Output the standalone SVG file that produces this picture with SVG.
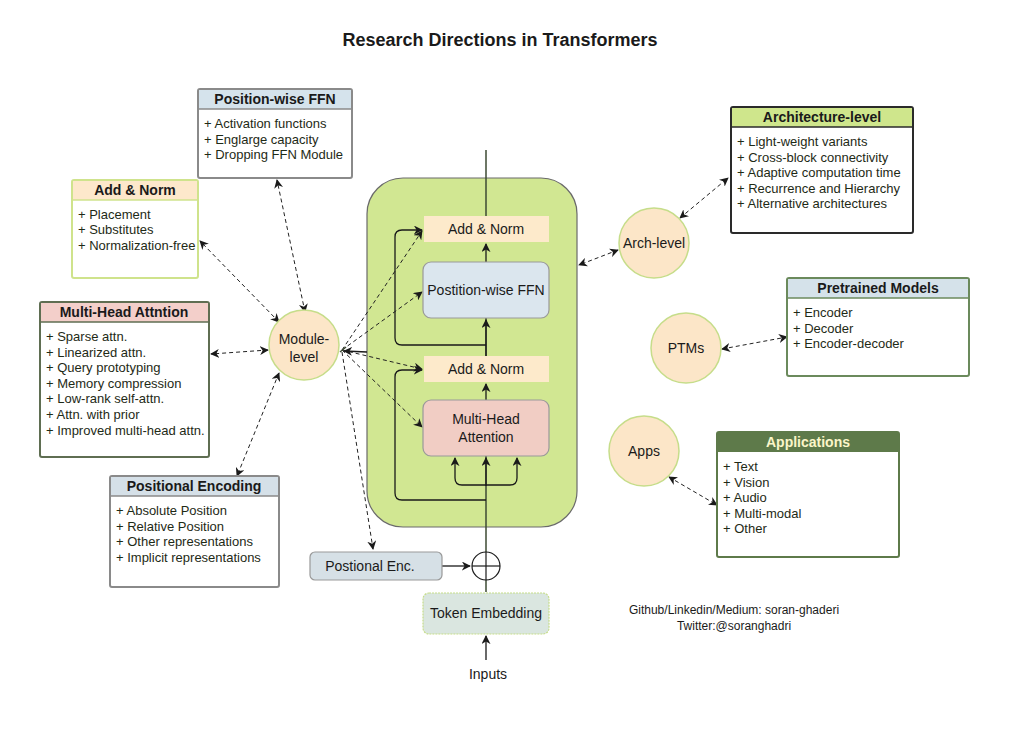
<svg xmlns="http://www.w3.org/2000/svg" width="1011" height="731" viewBox="0 0 1011 731">
<defs>
<marker id="ah" viewBox="0 0 10 10" refX="9" refY="5" markerWidth="9" markerHeight="9" markerUnits="userSpaceOnUse" orient="auto-start-reverse"><path d="M0,0 L10,5 L0,10 L3,5 z" fill="#1a1a1a"/></marker>
</defs>
<style>
text{font-family:"Liberation Sans",Arial,sans-serif;}
.t{font-size:18px;font-weight:bold;fill:#1a1a1a;}
.hd{font-size:14px;font-weight:bold;fill:#1a1a1a;text-anchor:middle;}
.it{font-size:13px;fill:#1e2a16;}
.lb{font-size:14px;fill:#1a1a1a;text-anchor:middle;}
.cr{font-size:12px;fill:#1a1a1a;text-anchor:middle;}
.circ{fill:#fce6c8;stroke:#c6dd8a;stroke-width:1.5;}
.dash{fill:none;stroke:#222;stroke-width:1;stroke-dasharray:4,3;marker-start:url(#ah);marker-end:url(#ah);}
.dash1{fill:none;stroke:#222;stroke-width:1;stroke-dasharray:4,3;marker-end:url(#ah);}
.sol{fill:none;stroke:#3d4a33;stroke-width:1.5;}
.arr{fill:none;stroke:#1a1a1a;stroke-width:1.3;marker-end:url(#ah);}
.box{fill:#fff;stroke-width:2;}
</style>
<rect width="1011" height="731" fill="#fff"/>
<text class="t" x="500" y="46" text-anchor="middle">Research Directions in Transformers</text>

<g id="transformer-block">
<rect x="367" y="178" width="210" height="349" rx="36" fill="#d1e792" stroke="#6a6a6a" stroke-width="1.2"/>
</g>

<g id="connectors">
<line x1="486" y1="150" x2="486" y2="216" class="sol"/>
<line x1="486" y1="592" x2="486" y2="456" class="sol"/>
<line x1="486" y1="356" x2="486" y2="318" class="sol"/>
<path d="M486,400 L486,384" class="arr"/>
<path d="M486,356 L486,320" class="arr"/>
<path d="M486,262 L486,244" class="arr"/>
<path d="M486,486 L486,458" class="arr"/>
<path d="M486,485 L462,485 Q455,485 455,478 L455,458" class="arr"/>
<path d="M486,485 L510,485 Q517,485 517,478 L517,458" class="arr"/>
<path d="M486,500 L402,500 Q395,500 395,493 L395,377 Q395,370 402,370 L422,370" class="arr"/>
<path d="M486,345 L402,345 Q395,345 395,338 L395,237 Q395,230 402,230 L422,230" class="arr"/>
<path d="M442,566 L470,566" class="arr"/>
<path d="M486,660 L486,636" class="arr"/>
<path d="M367,352 L344,351" class="arr"/>
<path d="M342,350 L422,231" class="dash1"/>
<path d="M342,350 L422,292" class="dash1"/>
<path d="M342,350 L422,369" class="dash1"/>
<path d="M342,350 L422,427" class="dash1"/>
<path d="M342,352 L373,549" class="dash1"/>
<path d="M340,352 L346,347" class="sol" stroke="#111" stroke-width="4"/>
<path d="M305,312 L277,180" class="dash"/>
<path d="M279,322 L200,241" class="dash"/>
<path d="M268,350 L211,354" class="dash"/>
<path d="M279,373 L237,476" class="dash"/>
<path d="M618,250 L579,265" class="dash"/>
<path d="M680,218 L728,178" class="dash"/>
<path d="M722,349 L787,337" class="dash"/>
<path d="M669,477 L717,505" class="dash"/>
</g>

<g id="add-norm-top">
<rect x="424" y="216" width="125" height="26" fill="#fdeacb"/>
<text class="lb" x="486" y="234">Add &amp; Norm</text>
</g>
<g id="ffn">
<rect x="423" y="262" width="126" height="56" rx="8" fill="#dbe6ee" stroke="#999" stroke-width="1.2"/>
<text class="lb" x="486" y="295">Postition-wise FFN</text>
</g>
<g id="add-norm-bottom">
<rect x="424" y="356" width="125" height="26" fill="#fdeacb"/>
<text class="lb" x="486" y="374">Add &amp; Norm</text>
</g>
<g id="mha">
<rect x="423" y="400" width="126" height="56" rx="8" fill="#f1cdc4" stroke="#999" stroke-width="1.2"/>
<text class="lb" x="486" y="424">Multi-Head</text>
<text class="lb" x="486" y="442">Attention</text>
</g>
<g id="sum">
<circle cx="486" cy="566" r="14" fill="#fff" stroke="#1a1a1a" stroke-width="1.2"/>
<line x1="472" y1="566" x2="500" y2="566" stroke="#1a1a1a" stroke-width="1.2"/>
<line x1="486" y1="552" x2="486" y2="580" stroke="#1a1a1a" stroke-width="1.2"/>
</g>
<g id="pos-enc">
<rect x="310" y="552" width="132" height="28" rx="5" fill="#d6e0e6" stroke="#999" stroke-width="1.2"/>
<text class="lb" x="370" y="571">Postional Enc.</text>
</g>
<g id="token-emb">
<rect x="423" y="593" width="126" height="41" rx="6" fill="#dae6e0" stroke="#c6dd8a" stroke-width="1.2" stroke-dasharray="2,1"/>
<text class="lb" x="486" y="618">Token Embedding</text>
</g>
<g id="inputs">
<text class="lb" x="488" y="679">Inputs</text>
</g>

<g id="module-level">
<circle class="circ" cx="304" cy="345" r="35"/>
<text class="lb" x="304" y="344">Module-</text>
<text class="lb" x="304" y="362">level</text>
</g>
<g id="arch-level">
<circle class="circ" cx="654" cy="243" r="35"/>
<text class="lb" x="654" y="248">Arch-level</text>
</g>
<g id="ptms">
<circle class="circ" cx="686" cy="348" r="35"/>
<text class="lb" x="686" y="353">PTMs</text>
</g>
<g id="apps">
<circle class="circ" cx="644" cy="451" r="35"/>
<text class="lb" x="644" y="456">Apps</text>
</g>

<g id="box-ffn">
<rect class="box" x="198" y="89" width="154" height="89" rx="2" stroke="#8a8a8a"/>
<rect x="199" y="90" width="152" height="19" fill="#d5e3ec"/>
<line x1="198" y1="109" x2="352" y2="109" stroke="#8a8a8a" stroke-width="1.5"/>
<text class="hd" x="275" y="104">Position-wise FFN</text>
<text class="it" x="204" y="128">+ Activation functions</text>
<text class="it" x="204" y="144">+ Englarge capacity</text>
<text class="it" x="204" y="159">+ Dropping FFN Module</text>
</g>
<g id="box-addnorm">
<rect class="box" x="72" y="180" width="126" height="98" rx="2" stroke="#cfe38c"/>
<rect x="73" y="181" width="124" height="19" fill="#fde8cb"/>
<line x1="72" y1="200" x2="198" y2="200" stroke="#cfe38c" stroke-width="1.5"/>
<text class="hd" x="135" y="195">Add &amp; Norm</text>
<text class="it" x="78" y="219">+ Placement</text>
<text class="it" x="78" y="234">+ Substitutes</text>
<text class="it" x="78" y="250">+ Normalization-free</text>
</g>
<g id="box-mha">
<rect class="box" x="40" y="302" width="169" height="155" rx="2" stroke="#5f6e52"/>
<rect x="41" y="303" width="167" height="19" fill="#f3cfca"/>
<line x1="40" y1="322" x2="209" y2="322" stroke="#5f6e52" stroke-width="1.5"/>
<text class="hd" x="124" y="317">Multi-Head Attntion</text>
<text class="it" x="46" y="341">+ Sparse attn.</text>
<text class="it" x="46" y="357">+ Linearized attn.</text>
<text class="it" x="46" y="372">+ Query prototyping</text>
<text class="it" x="46" y="388">+ Memory compression</text>
<text class="it" x="46" y="403">+ Low-rank self-attn.</text>
<text class="it" x="46" y="419">+ Attn. with prior</text>
<text class="it" x="46" y="435">+ Improved multi-head attn.</text>
</g>
<g id="box-posenc">
<rect class="box" x="110" y="476" width="169" height="111" rx="2" stroke="#8a8a8a"/>
<rect x="111" y="477" width="167" height="19" fill="#d5e0e8"/>
<line x1="110" y1="496" x2="279" y2="496" stroke="#8a8a8a" stroke-width="1.5"/>
<text class="hd" x="194" y="491">Positional Encoding</text>
<text class="it" x="116" y="515">+ Absolute Position</text>
<text class="it" x="116" y="531">+ Relative Position</text>
<text class="it" x="116" y="546">+ Other representations</text>
<text class="it" x="116" y="562">+ Implicit representations</text>
</g>
<g id="box-arch">
<rect class="box" x="731" y="107" width="182" height="126" rx="2" stroke="#2a2a2a"/>
<rect x="732" y="108" width="180" height="19" fill="#cfe68c"/>
<line x1="731" y1="127" x2="913" y2="127" stroke="#2a2a2a" stroke-width="1.5"/>
<text class="hd" x="822" y="122">Architecture-level</text>
<text class="it" x="737" y="146">+ Light-weight variants</text>
<text class="it" x="737" y="162">+ Cross-block connectivity</text>
<text class="it" x="737" y="177">+ Adaptive computation time</text>
<text class="it" x="737" y="193">+ Recurrence and Hierarchy</text>
<text class="it" x="737" y="208">+ Alternative architectures</text>
</g>
<g id="box-ptm">
<rect class="box" x="787" y="278" width="182" height="98" rx="2" stroke="#6b8a5c"/>
<rect x="788" y="279" width="180" height="19" fill="#d5e2ea"/>
<line x1="787" y1="298" x2="969" y2="298" stroke="#6b8a5c" stroke-width="1.5"/>
<text class="hd" x="878" y="293">Pretrained Models</text>
<text class="it" x="793" y="317">+ Encoder</text>
<text class="it" x="793" y="333">+ Decoder</text>
<text class="it" x="793" y="348">+ Encoder-decoder</text>
</g>
<g id="box-apps">
<rect class="box" x="717" y="432" width="182" height="125" rx="2" stroke="#5e7a4a"/>
<rect x="717" y="432" width="182" height="20" fill="#5e7a4a"/>
<text class="hd" x="808" y="447" style="fill:#fbf6c8">Applications</text>
<text class="it" x="723" y="471">+ Text</text>
<text class="it" x="723" y="487">+ Vision</text>
<text class="it" x="723" y="502">+ Audio</text>
<text class="it" x="723" y="518">+ Multi-modal</text>
<text class="it" x="723" y="533">+ Other</text>
</g>

<g id="credits">
<text class="cr" x="734" y="614">Github/Linkedin/Medium: soran-ghaderi</text>
<text class="cr" x="734" y="630">Twitter:@soranghadri</text>
</g>
</svg>
